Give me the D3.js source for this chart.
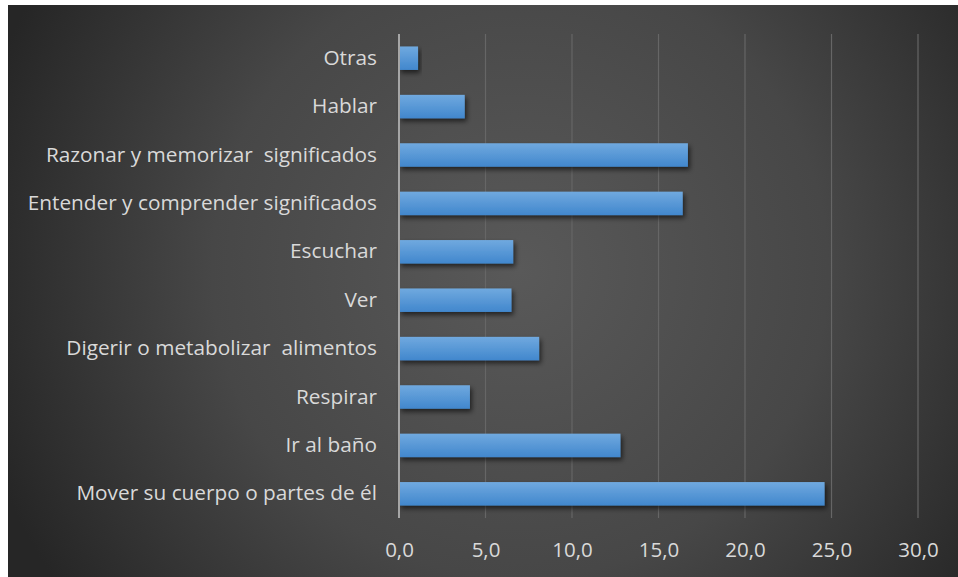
<!DOCTYPE html>
<html><head><meta charset="utf-8">
<script src="https://cdn.jsdelivr.net/npm/d3@7"></script>
<style>html,body{margin:0;padding:0;background:#fff;}svg{display:block;}text{white-space:pre;}</style>
</head><body>
<script>
const categories = ["Mover su cuerpo o partes de él","Ir al baño","Respirar","Digerir o metabolizar  alimentos","Ver","Escuchar","Entender y comprender significados","Razonar y memorizar  significados","Hablar","Otras"];
const values = [24.6,12.8,4.1,8.1,6.5,6.6,16.4,16.7,3.8,1.1];
const tickValues = [0,5,10,15,20,25,30];

const W=958,H=577;
const svg=d3.select("body").append("svg").attr("width",W).attr("height",H);
const defs=svg.append("defs");
const rg=defs.append("radialGradient").attr("id","bg").attr("gradientUnits","userSpaceOnUse")
  .attr("cx",520).attr("cy",270).attr("r",560);
rg.append("stop").attr("offset","0").attr("stop-color","#595959");
rg.append("stop").attr("offset","0.55").attr("stop-color","#474747");
rg.append("stop").attr("offset","1").attr("stop-color","#262626");
const bg=defs.append("linearGradient").attr("id","bar").attr("x1",0).attr("y1",0).attr("x2",0).attr("y2",1);
bg.append("stop").attr("offset","0").attr("stop-color","#70a9df");
bg.append("stop").attr("offset","1").attr("stop-color","#4187cd");
const f=defs.append("filter").attr("id","sh").attr("x","-10%").attr("y","-30%").attr("width","130%").attr("height","180%");
f.append("feDropShadow").attr("dx",2).attr("dy",3).attr("stdDeviation",2.5).attr("flood-color","#000").attr("flood-opacity",0.6);

svg.append("rect").attr("x",8).attr("y",5).attr("width",W-8).attr("height",H-5).attr("fill","url(#bg)");

const x=d3.scaleLinear().domain([0,30]).range([399,918]);
const y=d3.scaleBand().domain(categories.slice().reverse()).range([34,518]).paddingInner(0.515).paddingOuter(0.2575);

svg.append("g").selectAll("line").data(tickValues.slice(1)).join("line")
  .attr("x1",d=>x(d)).attr("x2",d=>x(d)).attr("y1",34).attr("y2",518)
  .attr("stroke","#666").attr("stroke-width",1.2);

svg.append("g").selectAll("rect").data(categories).join("rect")
  .attr("x",x(0)).attr("y",d=>y(d)).attr("height",y.bandwidth())
  .attr("width",(d,i)=>x(values[i])-x(0)).attr("fill","url(#bar)").attr("filter","url(#sh)");

svg.append("line").attr("x1",x(0)).attr("x2",x(0)).attr("y1",34).attr("y2",518)
  .attr("stroke","#a6a6a6").attr("stroke-width",2);

const ya=svg.append("g").attr("transform",`translate(${x(0)-22},0)`)
  .call(d3.axisLeft(y).tickSize(0).tickPadding(0));
ya.select(".domain").remove();
ya.selectAll("text").attr("fill","#d9d9d9").style("font-family","'Open Sans',sans-serif").style("font-size","20.8px");

const xa=svg.append("g").attr("transform",`translate(0,542)`)
  .call(d3.axisBottom(x).tickValues(tickValues).tickSize(0).tickPadding(0).tickFormat(d=>d3.format(".1f")(d).replace(".",",")));
xa.select(".domain").remove();
xa.selectAll("text").attr("fill","#d9d9d9").attr("dy","0.71em").style("font-family","'Open Sans',sans-serif").style("font-size","20.5px");
</script>
</body></html>
